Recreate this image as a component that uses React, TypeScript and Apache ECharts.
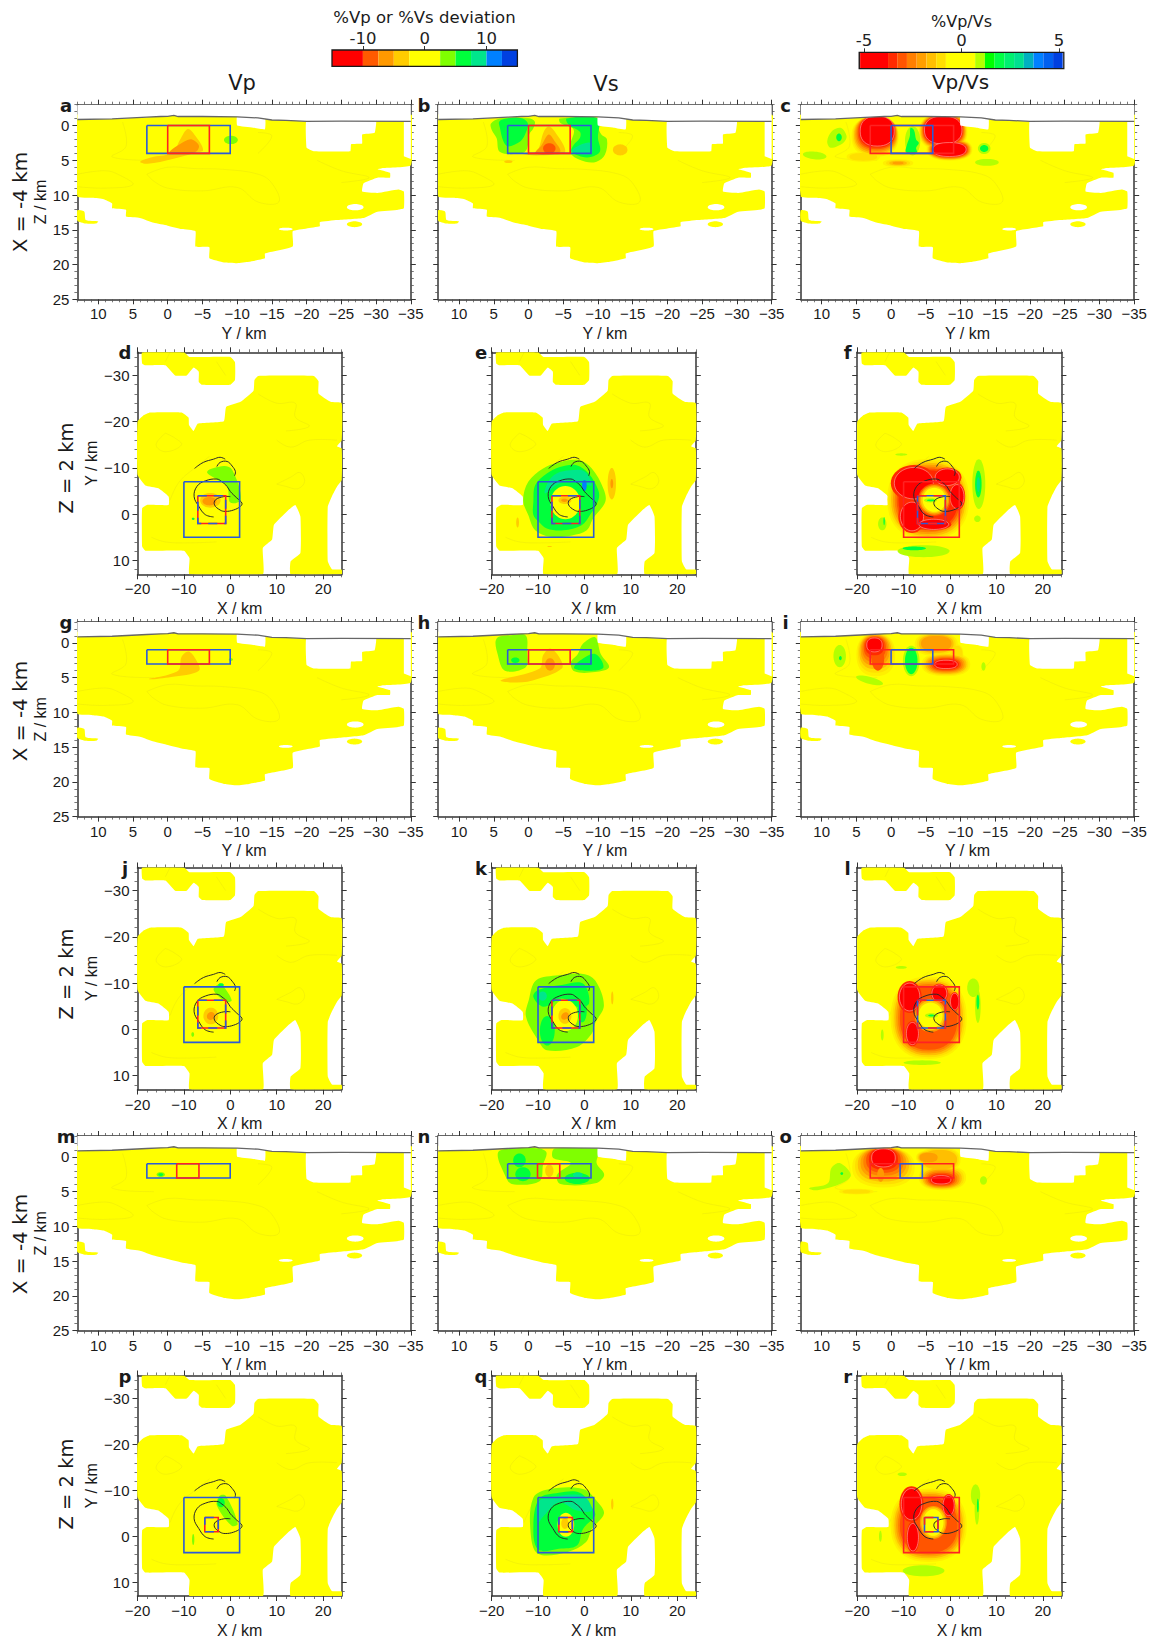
import React, { useEffect, useRef } from "react";
import * as echarts from "echarts";

type Pt = [number, number];
const SANS = "Liberation Sans";
const DEJA = "DejaVu Sans";

// ---------- palette ----------
const R = "#ff0000", r = "#ff5500", O = "#ff9900", A = "#ffcc00", Y = "#ffff00";
const L = "#7fff00", l = "#b4ff00", G = "#00ff3c", T = "#00e68c", B = "#0080ff";
const HOT = ["#fff000", "#ffdf00", "#ffbf00", "#ff9f00", "#ff7f00", "#ff5500", "#ff2a00", "#ff0000"];
const BOX_BLUE = "#2b5bd7", BOX_RED = "#ff2222";
const RANK: Record<string, number> = { [Y]: -1, [A]: 2, [O]: 3, [r]: 5, [R]: 7, [L]: 1, [l]: 1, [G]: 2, [T]: 3, [B]: 4 };

// ---------- colour bars ----------
const barTicksA = [-10, 0, 10];
const barBandsA: [number, number, string][] = [
  [-15, -10, R], [-10, -7.5, "#ff5a00"], [-7.5, -5, "#ff9900"], [-5, -2.5, "#ffcc00"], [-2.5, 2.5, Y],
  [2.5, 5, "#7fff00"], [5, 7.5, "#00ff3c"], [7.5, 10, "#00e68c"], [10, 12.5, "#0080ff"], [12.5, 15, "#0040e0"],
];
const barTicksB = [-5, 0, 5];
const barBandsB: [number, number, string][] = [
  [-5.25, -5.2, "#700000"], [-5.2, -3.77, R], [-3.77, -3.3, "#ff2a00"], [-3.3, -2.8, "#ff5500"], [-2.8, -2.3, "#ff7f00"],
  [-2.3, -1.8, "#ff9f00"], [-1.8, -1.3, "#ffbf00"], [-1.3, -0.8, "#ffdf00"], [-0.8, 0.7, Y], [0.7, 1.2, "#b4ff00"],
  [1.2, 1.7, "#00ff00"], [1.7, 2.2, "#00ff44"], [2.2, 2.7, "#00f070"], [2.7, 3.2, "#00e090"], [3.2, 3.7, "#00b0c0"],
  [3.7, 4.2, "#0080ff"], [4.2, 4.7, "#0060f0"], [4.7, 5.2, "#0040e0"], [5.2, 5.25, "#ffffff"],
];

// ---------- section (Y, Z) outlines ----------
const topography: Pt[] = [[13, -0.87], [8, -0.95], [3, -1.2], [1, -1.3], [0, -1.33], [-0.9, -1.45], [-1.5, -1.3], [-5, -1.3], [-10, -1.25], [-13, -1.1], [-15, -0.8], [-17, -0.75], [-20, -0.6], [-25, -0.65], [-35, -0.6]];
const sectionCoverA: Pt[] = [[13, -1.6], [-35, -1.6], [-35, 5.7], [-31, 6.1], [-30.2, 6.3], [-32, 6.8], [-32, 7.5], [-30.2, 7.5], [-28.2, 8.3], [-28, 9.5], [-30.2, 9.7], [-33.2, 9.2], [-34, 9.5], [-34, 11.9], [-33.2, 12.1], [-30.2, 12.4], [-28.2, 13.3], [-24.4, 13.6], [-21.9, 13.9], [-21.9, 14.5], [-20, 14.8], [-18, 15.2], [-18, 17.4], [-14, 18.4], [-14, 19.1], [-11.7, 19.6], [-10, 19.8], [-8.1, 19.7], [-6, 19.1], [-6, 17.5], [-4, 17.4], [-4, 15.2], [-2, 14.9], [0, 14.4], [2, 14], [4, 13.3], [6, 13.1], [6, 12.1], [8, 11.9], [8, 11.2], [9.2, 10.6], [10.8, 10.4], [13, 10.2]];
const sectionCoverB: Pt[] = [[13, -1.6], [-35, -1.6], [-35, 5.7], [-31, 6.1], [-30.2, 6.3], [-32, 6.8], [-32, 7.5], [-30.2, 7.5], [-28.2, 8.3], [-28, 9.5], [-30.2, 9.7], [-33.2, 9.2], [-34, 9.5], [-34, 11.9], [-33.2, 12.1], [-30.2, 12.4], [-28.2, 13.3], [-24.4, 13.7], [-21.9, 14], [-21.9, 14.9], [-20, 15.3], [-18, 15.8], [-18, 18], [-14, 18.9], [-14, 19.8], [-11.7, 20.3], [-10, 20.5], [-8.1, 20.3], [-6, 19.6], [-6, 18], [-4, 17.9], [-4, 15.6], [-2, 15.2], [0, 14.7], [2, 14.2], [4, 13.5], [6, 13.2], [6, 12.1], [8, 11.9], [8, 11.2], [9.2, 10.6], [10.8, 10.4], [13, 10.2]];
const sectionIsle: Pt[] = [[13, 12.2], [12, 12.4], [11.8, 13.6], [10, 13.8], [10.3, 14.1], [11.8, 14.1], [13, 13.7]];
const sectionNotch: Pt[] = [[-10, -1.4], [-10, 0], [-12.3, 0.3], [-14, 0.55], [-14, -1.2]];
const sectionHole: Pt[] = [[-20, -0.9], [-20, 3.2], [-21, 3.7], [-26.3, 3.7], [-26.4, 2.7], [-28, 2.6], [-28, 1.3], [-29.8, 1.05], [-30, -0.9]];
const sectionSliver: Pt[] = [[-34, -0.9], [-34, 4.4], [-35, 4.8], [-35, -0.9]];
const sectionOvals: number[][] = [[-27, 11.75, 1.2, 0.45], [-17, 14.9, 1, 0.2]];
const sectionIsleOval = [-26.9, 14.2, 1.1, 0.42];
const sectionFaint: Pt[][] = [
  [[13, 7], [9, 6.5], [7, 7.1], [5, 8.5], [9, 9], [13, 8.8]],
  [[3, 7], [0, 6], [-4, 6.2], [-8, 6.3], [-13, 7], [-15, 8.3], [-16, 11], [-13, 11], [-10, 8.9], [-5, 9.4], [0, 9], [2, 8], [3, 7]],
  [[6.5, -0.5], [6, 3], [8, 4.5], [2, 5]],
  [[-13, 4], [-15, 1.5], [-13, 1]],
  [[-21.5, 5], [-25, 6.5], [-29, 7.5], [-25, 8.2]],
];

// ---------- map (X, Y) outlines ----------
const mapCoverMain: Pt[] = [[-20, -20], [-18.7, -21.4], [-17.3, -22], [-10.5, -22], [-9, -20.9], [-8.9, -19.3], [-7.9, -18], [-7, -19.6], [-1.4, -20.1], [-0.9, -23.2], [2.2, -24.3], [5, -26.7], [5.2, -29], [6, -29.9], [18, -29.9], [19, -28.8], [19, -26.1], [21.6, -24.3], [24, -24], [24, -16], [23, -14.7], [24, -14.2], [24, -7.4], [23, -6], [21.9, -3.9], [21, -1.6], [21, 10.2], [21.9, 11.9], [24, 12], [24, 13], [13, 13], [13, 10.2], [15.1, 8.4], [15.1, 0.5], [14, -2], [12.2, -0.6], [9.4, 2.3], [9, 5.5], [7, 7.3], [7, 13], [-8.8, 13], [-8.8, 9.5], [-10, 7.9], [-18.3, 7.9], [-19, 7], [-19, -1.3], [-18, -2], [-13.3, -2], [-13.3, -3.8], [-15.5, -5.6], [-18.3, -6.2], [-20, -8.5]];
const mapCoverTop: Pt[] = [[-19, -35], [-19, -32.6], [-18.4, -32.2], [-14, -32.2], [-11.9, -30], [-9.4, -30], [-7.9, -31.7], [-6.8, -30.8], [-6.8, -28.6], [-6.1, -28], [0, -28], [1, -29], [1, -32.9], [0, -34], [-8.8, -34], [-10, -35]];
const mapFaint: Pt[][] = [
  [[-14, -17.5], [-16, -15], [-14, -13.5], [-10.5, -15], [-12, -16.5], [-14, -17.5]],
  [[-4.5, -12.5], [-7, -10.5], [-11, -7], [-13, -3]],
  [[10, -6.5], [13, -8], [15, -9], [16, -7], [14.5, -5.5], [12, -6], [10, -6.5]],
  [[10, -16], [13, -14.5], [17, -16], [23, -16]],
  [[6, -26], [10, -24], [14, -24], [14, -21], [17, -19], [12, -18]],
  [[-14, -33], [-13, -35]],
  [[-3, -33], [-1, -30]],
  [[-17, 5], [-14, 6], [-9, 6.2], [-3, 6]],
];
const rimOuter: Pt[] = [[-7.7, -9.9], [-5.8, -11.2], [-3.6, -11.9], [-2.2, -12.3], [-1.1, -11.9]];
const rimMiddle: Pt[] = [[-2.9, -10.3], [-2.2, -11.2], [-0.7, -11.4], [0.4, -10.4], [1.1, -9.2], [0.9, -8.3]];
const rimInner: Pt[] = [[-3.6, 0.6], [-5.4, 0.1], [-6.8, -1.7], [-7.8, -3.8], [-7.2, -6], [-5.4, -7.2], [-2.9, -7.6], [-1.8, -7], [-0.7, -6], [0, -4.9], [1.4, -3.5], [2.5, -2.4], [2.2, -1.7], [0.7, -0.9], [-1.1, -0.6], [-2.2, -0.9], [-3.4, -2], [-3.2, -3.1], [-1.4, -3.8], [0, -3.8]];

// ---------- anomaly shapes: [colour, cx, cy, rx, ry, rot], [colour, outline], ["H", levels, cx, cy, rx, ry, cx2, cy2, rx2, ry2] ----------
// First list of a panel: merged like contour levels. Second list: painted afterwards, in the order written.
type Shape = any[];
type Panel = [Shape[], Shape[]];

const blobsA: Panel = [[
  [A, [[3.96, 5.2], [2, 4.5], [-0.7, 3.9], [-1.8, 2], [-2.9, 0.5], [-4, 1.5], [-5.1, 3.5], [-4, 3.9], [-0.7, 4.8], [2.9, 5.5]]],
  [O, [[-0.2, 3.9], [-2.4, 2.3], [-3.5, 2], [-4.5, 2.9], [-4, 3.8], [-1.8, 4]]],
  [L, -9.1, 2.07, 1, 0.6],
], []];
const blobsB: Panel = [[
  [L, [[5.4, -0.3], [4.1, -1], [0, -1.05], [-0.9, -0.6], [-0.7, 0.4], [-0.1, 1.3], [0.2, 3.3], [1, 4], [4.1, 3.8], [4.6, 1.8], [5.3, 0.6]]],
  [G, [[4.2, -0.6], [2.9, -1.05], [1, -1.05], [0.1, -0.3], [0.5, 1.3], [1.2, 2.3], [2.9, 3], [3.6, 2.3], [4.1, 0.4]]],
  [L, [[-4.5, -1], [-10, -1.05], [-10, 0.15], [-10.5, 1.3], [-11.3, 2], [-11, 4.2], [-9.8, 5.2], [-8.2, 5.2], [-6.2, 4.2], [-6, 2.8], [-6.5, 0.6], [-4.6, -0.35]]],
  [G, [[-5.5, -1], [-10, -1], [-10, 1.8], [-10.3, 3.7], [-9.1, 4.5], [-7.7, 4.5], [-6.2, 3.7], [-6.5, 2.8], [-7.4, 1.8], [-7.4, 0.9], [-5.8, -0.1]]],
  [T, [[-6.2, 3.7], [-7, 3], [-8.9, 2.5], [-9.1, 4], [-7.4, 4.1]]],
  [A, [[0.7, 4.2], [-1.2, 3.7], [-2.2, 0.9], [-2.9, 0.15], [-3.8, 0.9], [-5.3, 3.7], [-3.6, 4.2]]],
  [O, [[-1, 4], [-1.9, 2.8], [-2.9, 1.3], [-3.8, 2.3], [-4.6, 3.7], [-3.6, 4.1]]],
  [r, -3, 3.3, 0.9, 0.75],
  [A, -13.2, 3.5, 1.05, 0.8],
  [A, 2.9, 5.2, 0.6, 0.2],
], []];
const blobsC: Panel = [[
  ["H", 8, 2.3, 1.6, 3.4, 2.9, 2, 0.8, 2.45, 2.15],
  ["H", 8, -7.5, 0.9, 3.5, 2.7, -7.5, 0.65, 2.7, 2],
  ["H", 8, -8.4, 3.45, 3.3, 1.6, -8.4, 3.45, 2.4, 1],
  ["H", 2, 4, 4.5, 2.4, 0.7, 4, 4.5, 2, 0.55],
  ["H", 4, -1, 5.4, 2.2, 0.55, -1, 5.4, 0.8, 0.2],
  [l, -3.1, 2.2, 1.1, 2.1],
  [G, [[-2.8, 0.35], [-3.3, 0.67], [-3.6, 2], [-4, 2.5], [-3.6, 3.2], [-3.7, 3.85], [-2.15, 3.85], [-2.3, 2.7], [-2.7, 1.5]]],
  [l, [[9.2, 2.25], [8.5, 0.8], [7.2, 0.35], [6.4, 1.55], [6.9, 2.5], [8.7, 3.2]]],
  [G, 7.5, 1.7, 0.4, 0.55],
  [l, 11, 4.3, 1.7, 0.55, -6],
  [l, -13.4, 3.3, 0.9, 0.8],
  [G, -13.4, 3.3, 0.6, 0.5],
  [l, -13.8, 5.3, 1.7, 0.5],
], []];
const blobsD: Panel = [[
  [L, [[-5, -9.2], [-1.4, -10.4], [0.4, -9.6], [2.3, -3.2], [0, -2.5], [-0.7, -6], [-2.9, -7.5]]],
  [A, -4.3, -3, 2.2, 1.6],
  [O, -4.5, -2.8, 1.5, 0.9],
  [G, -8, 1, 0.3, 0.25],
], []];
const blobsE: Panel = [[
  [L, [[-13.2, -3], [-12.1, -7], [-8.9, -9.9], [-5.6, -11.2], [-1.3, -11.7], [1.6, -9.9], [4.1, -5.5], [4.5, -2.7], [1.9, 0.9], [0.5, 3.5], [-2.7, 4.6], [-7.4, 4.9], [-10.6, 3.5], [-12.1, 0.2]]],
  [G, [[-11, -2.7], [-10.6, -6.3], [-8.1, -8.8], [-5.3, -10.2], [-1.7, -10.6], [0.9, -8.8], [3, -5.2], [3, -3], [1.2, 0.2], [-0.6, 2.4], [-4.5, 3.5], [-8.1, 3.1], [-9.9, 1.6], [-11, 0.2]]],
  [T, [[-7.8, -7], [-6, -8.8], [-3.1, -9.5], [0.1, -9.2], [1.6, -6.3], [0.5, -6.3], [-3.1, -7.4], [-6, -6.3], [-8.5, -4.5]]],
  [B, 0, -6.2, 0.5, 1.2],
  [A, 5.9, -6.6, 0.9, 3.4],
  [O, 5.9, -6.6, 0.3, 1],
  [A, -14.4, 1.8, 0.3, 1.1],
  [A, -7.5, 7, 0.5, 0.12],
], [
  [Y, -4.1, -2.5, 3.2, 3.6],
  [A, -4.2, -3, 1.4, 0.8],
  [O, -4.3, -3, 0.7, 0.35],
]];
const blobsF: Panel = [[
  ["H", 7, -4.7, -3.2, 8.8, 8.7, -4.7, -3.2, 6.4, 6.3],
  [R, -7.8, -6.7, 4.2, 3.4],
  [R, -0.6, -8, 2.6, 1.8],
  [R, 1.5, -3.8, 1.5, 2.6],
  [R, -8.2, 0.5, 2.5, 3.1],
  [R, -3.5, 2.2, 3.2, 1.1],
  [l, 6.2, -6.5, 1.4, 5.4],
  [G, 6.1, -6.5, 0.7, 2.9],
  [T, 6.1, -6.4, 0.35, 1.6],
  [l, -10.5, -12.9, 1.3, 0.25],
  [l, -5.7, 8, 5.6, 1.3],
  [G, -7.7, 7.4, 2.5, 0.4],
  [l, -14.6, 2.1, 0.9, 1.4],
  [G, -14.2, 1.5, 0.15, 0.9],
  [l, 5.9, 1, 0.7, 0.7],
], [
  [r, -3.4, -3.1, 3.5, 3.5],
  [O, -3.4, -3.1, 3.2, 3.2],
  [A, -3.4, -3.1, 2.9, 2.9],
  [Y, -3.4, -3.1, 2.5, 2.6],
  [l, -4.2, -3, 1.4, 0.45],
  [G, -4.1, -3, 0.9, 0.2],
]];
const blobsG: Panel = [[
  [A, [[2.7, 5.2], [-1.5, 4], [-2, 2], [-3, 1.25], [-4, 2.3], [-4.5, 4], [-0.5, 4.9]]],
  [L, -9.1, 2.4, 0.3, 0.2],
], []];
const blobsH: Panel = [[
  [L, [[4.6, -0.6], [2.4, -1.1], [0.4, -1.05], [0.2, 1.3], [0.4, 3.5], [3.4, 4], [4.4, 1.8]]],
  [G, 1.9, 2.5, 0.6, 0.4],
  [L, [[-7.8, 0.15], [-9.6, -0.8], [-10.4, 1.6], [-11.6, 3.5], [-9.6, 4.2], [-6.6, 4.1], [-6.1, 2.8], [-7.1, 1.6]]],
  [G, [[-7.1, 2.8], [-9.6, 1.6], [-10.8, 3.5], [-9.1, 4], [-6.6, 3.7]]],
  [A, [[4, 5.4], [-1.6, 3.7], [-2.1, 1.8], [-3.1, 0.8], [-4.4, 2], [-4.8, 3.7], [-0.6, 5.4], [2.4, 5.7]]],
  [O, -3.1, 3.1, 0.7, 0.9],
], []];
const blobsI: Panel = [[
  ["H", 8, 2.2, 1.7, 2.8, 3.1, 2.4, 0.3, 1.1, 1],
  [r, 1.9, 2.3, 0.9, 1.7],
  ["H", 4, -6.5, 0.2, 3.1, 1.7, -6.5, 0.1, 2.2, 1.1],
  ["H", 2, -9.4, 1.8, 1, 1.6, -9.4, 1.8, 0.9, 1.4],
  ["H", 8, -7.9, 3.1, 3.5, 1.7, -7.9, 3.1, 1.6, 0.6],
  [l, -2.9, 2.6, 1.2, 2.2],
  [G, -2.9, 2.6, 0.9, 1.9],
  [l, 7.4, 1.9, 0.9, 1.6],
  [G, 7.3, 2.2, 0.2, 0.3],
  [l, 3.1, 5.4, 2, 0.5, -15],
  [l, -13.3, 3.4, 0.3, 0.6],
], []];
const blobsJ: Panel = [[
  [L, [[-2.3, -9.9], [-1.6, -9.5], [0.3, -6.3], [-1, -6], [-3.6, -8.5]]],
  [G, -2, -9.6, 0.6, 0.4],
  [A, -4.2, -2.9, 1.6, 1.8],
  [O, -4.2, -2.9, 0.8, 0.9, 45],
  [L, -8.1, 1.1, 0.3, 0.5],
], []];
const blobsK: Panel = [[
  [L, [[-10.4, -10.6], [-5.5, -11.7], [-0.3, -12], [2.3, -10.6], [4.2, -5.2], [2.3, -1.3], [1.6, 0.9], [-1.6, 3.8], [-8.1, 4.5], [-10, 2.3], [-12.6, -2.8], [-12, -6.3]]],
  [G, [[-10, -8.5], [-4.9, -9.6], [-0.3, -9.9], [1, -5.6], [-1.6, -4.9], [-4.9, -6.7], [-8.8, -4.9], [-11, -7]]],
  [G, -8, 0.3, 1.6, 3.2],
  [G, -0.5, -4, 1, 2.5],
  [T, -9, -7.2, 0.9, 1],
  [A, 6, -6.8, 0.25, 1.4],
], [
  [Y, -4.2, -3, 2.8, 3.4],
  [A, -4.2, -2.9, 1.4, 1.7],
  [O, -4.2, -2.9, 0.7, 0.9, 45],
]];
const blobsL: Panel = [[
  ["H", 6, -4.6, -2.5, 8.2, 8.9, -4.6, -2.5, 6.2, 6.9],
  [R, -8.7, -7, 2.2, 3],
  [R, -8.1, 0.9, 1.3, 2.4],
  [R, -2.3, -7.8, 1.6, 1.8],
  [R, 1, -6, 0.9, 1.8],
  [l, 5, -9, 1.3, 2],
  [l, 6, -5, 0.6, 3.6],
  [G, 6, -5.9, 0.3, 1.6],
  [l, -10.5, -13.4, 1.2, 0.3],
  [l, -14.6, 1.2, 0.3, 1.2],
  [l, -6, 7.2, 4, 0.5],
], [
  [O, -4.2, -3, 3.4, 3.6],
  [A, -4.2, -3, 3, 3.2],
  [Y, -4.2, -3, 2.6, 2.8],
  [l, -4, -3, 1.4, 0.5],
  [G, -4, -3, 0.7, 0.2],
]];
const blobsM: Panel = [[
  [L, 1, 2.55, 0.6, 0.35],
  [G, 1, 2.55, 0.35, 0.2],
], []];
const blobsN: Panel = [[
  [L, [[4.4, -0.6], [2.4, -1.2], [-1.6, -1.2], [-2.6, -0.6], [-2.1, 1.1], [-1.6, 3.5], [2.4, 3.9], [3.4, 2.6]]],
  [G, 1.3, 0.5, 0.9, 1],
  [G, 0.8, 2.5, 1.1, 1],
  [L, [[-3.4, -0.6], [-3.8, -1.2], [-10.1, -1.2], [-9.8, 0.9], [-10.9, 2.6], [-9.6, 3.8], [-4.6, 3.9], [-4.1, 2.6], [-6.1, 0.9], [-3.6, 0.2]]],
  [G, -7, 3.1, 1.8, 0.8],
  [T, -7.1, 2.6, 0.7, 0.4],
  [A, -3, 2, 0.6, 0.9],
], []];
const blobsO: Panel = [[
  ["H", 8, 1.1, 1.5, 4.5, 2.9, 1.1, 0.15, 1.7, 1.3],
  ["H", 3, -7, 0.4, 3, 1.8, -7, 0.4, 2.5, 1.4],
  ["H", 4, -5.4, 0.1, 1.8, 1, -5.4, 0.1, 1.3, 0.7],
  ["H", 8, -7.4, 3, 3.4, 1.8, -7.2, 3.3, 1.4, 0.6],
  ["H", 2, 5, 5, 2.5, 0.4, 5, 5, 2, 0.3],
  [l, [[11.8, 4.5], [9.1, 3.8], [8.6, 1.6], [7.4, 0.9], [5.8, 2.6], [7.1, 3.8], [10.6, 4.8]]],
  [G, 7.1, 2.4, 0.2, 0.2],
  [l, -13.3, 3.4, 0.5, 0.6],
], [
  [O, 1.5, 2.6, 0.5, 1],
]];
const blobsP: Panel = [[
  [L, [[-2.3, -8.8], [-1, -8.8], [1.6, -2.7], [0.3, -2.3], [-2.9, -6.7]]],
  [G, -2, -7.3, 0.8, 1],
  [L, -8, 0.7, 0.25, 1.2],
], []];
const blobsQ: Panel = [[
  [L, [[-11, -8.4], [-7.4, -10.3], [-0.3, -10.3], [2.9, -7.4], [4.2, -4.9], [1.6, -1.6], [0.3, 1.3], [-3.6, 3.4], [-10, 3.8], [-11.6, -0.9]]],
  [G, [[-9.8, -8.1], [-5.5, -9.5], [-1, -9.5], [1.6, -6.3], [2.3, -4.5], [-0.3, -1.6], [-1.6, 2], [-5.5, 2.7], [-9.8, 3], [-11, -0.9]]],
  [T, [[-10, -7.4], [-7.4, -8.5], [-0.3, -8.8], [1.6, -5.6], [-1.6, -5.6], [-5.5, -7.4], [-8.7, -4.5], [-10, -3]]],
  [A, 6, -7, 0.25, 1.2],
], [
  [Y, -4, -2.5, 1.8, 2.6],
  [A, -4.2, -2.8, 0.8, 1.2],
  [T, -4, -0.9, 0.8, 0.2],
]];
const blobsR: Panel = [[
  ["H", 6, -4.6, -2.4, 8.2, 8, -4.6, -2.4, 6.2, 6],
  [R, -8.3, -7, 2.2, 3.4],
  [R, -8, 0.2, 1.2, 3],
  [R, -0.3, -6.7, 1.2, 2.2],
  [l, 5.5, -9, 1, 2.3],
  [l, 5.8, -6, 0.5, 3.5],
  [G, 6, -6.7, 0.2, 1.5],
  [l, -10.3, -13.5, 1, 0.4],
  [l, -15, 0, 0.3, 1.2],
  [l, -5.7, 7.5, 4.5, 1.2],
], [
  [O, -3.6, -3, 2.9, 3.6],
  [A, -3.6, -3, 2.6, 3.3],
  [Y, -3.6, -3, 2.2, 2.9],
]];

// ---------- target boxes [a0, a1, b0, b1] ----------
const sectionBoxA = { outer: [3, -9, 0, 4], inner: [0, -6, 0, 4] };
const sectionBoxB = { outer: [3, -9, 1, 3.05], inner: [0, -6, 1, 3.05] };
const sectionBoxC = { outer: [3, -9, 1, 3.05], inner: [-1.3, -4.5, 1, 3.05] };
const mapBoxA = { outer: [-10, 2, -7, 5], inner: [-7, -1, -4, 2] };
const mapBoxB = { outer: [-10, 2, -9.2, 2.8], inner: [-7, -1, -6.3, -0.3] };
const mapBoxC = { outer: [-10, 2, -8.45, 3.55], inner: [-5.5, -2.6, -4.1, -1] };

// ---------- ticks ----------
const sectionXTicks = [10, 5, 0, -5, -10, -15, -20, -25, -30, -35];
const sectionZTicks = [0, 5, 10, 15, 20, 25];
const mapXTicks = [-20, -10, 0, 10, 20];
const mapYTicks = [-30, -20, -10, 0, 10];
const sectionMinorX = [13, 12, 11, 9, 8, 7, 6, 4, 3, 2, 1, -1, -2, -3, -4, -6, -7, -8, -9, -11, -12, -13, -14, -16, -17, -18, -19, -21, -22, -23, -24, -26, -27, -28, -29, -31, -32, -33, -34];
const sectionMinorZ = [-3, -2, -1, 1, 2, 3, 4, 6, 7, 8, 9, 11, 12, 13, 14, 16, 17, 18, 19, 21, 22, 23, 24];
const mapMinorX = [-18, -16, -14, -12, -8, -6, -4, -2, 2, 4, 6, 8, 12, 14, 16, 18, 22, 24];
const mapMinorY = [-34, -32, -28, -26, -24, -22, -18, -16, -14, -12, -8, -6, -4, -2, 2, 4, 6, 8, 12];

// ---------- layout ----------
const SEC_X = [77.4, 438.2, 800.8];
const MAP_X = [137.5, 491.6, 857.2];
const SEC_W = 333.4, SEC_H = 194.6, MAP_W = 204.2, MAP_H = 222;
const ROWS_SEC = [104.7, 622, 1136];
const ROWS_MAP = [352.3, 867.5, 1375.5];

const letters = "abcdefghijklmnopqr".split("");
const allBlobs = [blobsA, blobsB, blobsC, blobsD, blobsE, blobsF, blobsG, blobsH, blobsI, blobsJ, blobsK, blobsL, blobsM, blobsN, blobsO, blobsP, blobsQ, blobsR];
const sectionBoxes = [sectionBoxA, sectionBoxB, sectionBoxC];
const mapBoxes = [mapBoxA, mapBoxB, mapBoxC];

const fmt = (v: number) => (v < 0 ? "\u2212" + Math.abs(v) : String(v));

function ell(cx: number, cy: number, rx: number, ry: number, rot = 0, pow = 1): Pt[] {
  const out: Pt[] = [];
  const a = (rot * Math.PI) / 180;
  for (let i = 0; i < 40; i++) {
    const t = (i / 40) * Math.PI * 2;
    const c = Math.cos(t), s = Math.sin(t);
    const u = rx * Math.sign(c) * Math.pow(Math.abs(c), pow);
    const v = ry * Math.sign(s) * Math.pow(Math.abs(s), pow);
    out.push([cx + u * Math.cos(a) - v * Math.sin(a), cy + u * Math.sin(a) + v * Math.cos(a)]);
  }
  return out;
}

type Row = { pts: Pt[]; fill?: string; stroke?: string; lw?: number; smooth?: number; dash?: number[]; rank?: number };

function expandLayer(items: Shape[], sorted: boolean): Row[] {
  const out: Row[] = [];
  for (const s of items) {
    if (s[0] === "H") {
      const [, n, cx, cy, rx, ry, cx2, cy2, rx2, ry2] = s;
      for (let i = 0; i < n; i++) {
        const k = n > 1 ? i / (n - 1) : 1;
        const top = i === 7;
        out.push({
          pts: ell(cx + (cx2 - cx) * k, cy + (cy2 - cy) * k, rx + (rx2 - rx) * k, ry + (ry2 - ry) * k, 0, 0.85),
          fill: HOT[i], rank: i, smooth: 0,
          stroke: top ? "rgba(255,205,205,0.7)" : undefined, lw: top ? 0.7 : 0,
        });
      }
    } else if (Array.isArray(s[1])) {
      out.push({ pts: s[1], fill: s[0], rank: RANK[s[0]] ?? 1, smooth: 0.35 });
    } else {
      const isRed = s[0] === R;
      if (isRed) out.push({ pts: ell(s[1], s[2], s[3] * 1.18, s[4] * 1.15, s[5] || 0), fill: HOT[6], rank: 6 });
      out.push({ pts: ell(s[1], s[2], s[3], s[4], s[5] || 0), fill: s[0], rank: RANK[s[0]] ?? 1, smooth: 0,
        stroke: isRed ? "rgba(255,205,205,0.7)" : undefined, lw: isRed ? 0.7 : 0 });
    }
  }
  return sorted ? out.sort((a, b) => (a.rank as number) - (b.rank as number)) : out;
}

function boxPts(b: number[]): Pt[] {
  return [[b[0], b[2]], [b[1], b[2]], [b[1], b[3]], [b[0], b[3]], [b[0], b[2]]];
}

function rowsFor(idx: number, isSection: boolean, col: number, group: number): Row[] {
  const rows: Row[] = [];
  const base = { fill: Y };
  const faintStroke = "rgba(165,150,60,0.16)";
  if (isSection) {
    rows.push({ pts: group === 0 ? sectionCoverA : sectionCoverB, ...base, smooth: 0.12 });
    rows.push({ pts: sectionIsle, ...base, smooth: 0.2 });
    rows.push({ pts: ell(sectionIsleOval[0], sectionIsleOval[1], sectionIsleOval[2], sectionIsleOval[3]), ...base });
    for (const p of sectionFaint) rows.push({ pts: p, stroke: faintStroke, lw: 0.7, smooth: 0.4 });
  } else {
    rows.push({ pts: mapCoverMain, ...base, smooth: 0.12 });
    rows.push({ pts: mapCoverTop, ...base, smooth: 0.12 });
    for (const p of mapFaint) rows.push({ pts: p, stroke: faintStroke, lw: 0.7, smooth: 0.4 });
  }
  const panel = allBlobs[idx];
  rows.push(...expandLayer(panel[0], true));
  rows.push(...expandLayer(panel[1], false));
  if (isSection) {
    rows.push({ pts: sectionNotch, fill: "#ffffff", smooth: 0.1 });
    rows.push({ pts: sectionHole, fill: "#ffffff", smooth: 0.08 });
    rows.push({ pts: sectionSliver, fill: "#ffffff" });
    for (const o of sectionOvals) rows.push({ pts: ell(o[0], o[1], o[2], o[3]), fill: "#ffffff" });
    const mask: Pt[] = [[13, -3], [-35, -3], ...topography.slice().reverse()];
    rows.push({ pts: mask, fill: "#ffffff" });
    rows.push({ pts: topography, stroke: "#666666", lw: 1.3 });
  } else {
    rows.push({ pts: rimOuter, stroke: "#2a2a2a", lw: 1, smooth: 0.4 });
    rows.push({ pts: rimMiddle, stroke: "#2a2a2a", lw: 1, smooth: 0.4 });
    rows.push({ pts: rimInner, stroke: "#2a2a2a", lw: 1, smooth: 0.4 });
  }
  const b = isSection ? sectionBoxes[group] : mapBoxes[group];
  const ratio = col === 2;
  const outerC = ratio ? BOX_RED : BOX_BLUE;
  const innerC = ratio ? BOX_BLUE : BOX_RED;
  rows.push({ pts: boxPts(b.outer), stroke: outerC, lw: 1.6 });
  rows.push({ pts: boxPts(b.inner), stroke: innerC, lw: 1.6 });
  if (!isSection) rows.push({ pts: boxPts(b.inner), stroke: outerC, lw: 1.6, dash: [9, 7] });
  return rows;
}

function axisPair(gridIndex: number, dim: "x" | "y", pos: string, min: number, max: number, inverse: boolean,
  major: number[], minor: number[], labels: boolean, name?: string, nameGap?: number) {
  const common = { type: "value", gridIndex, min, max, inverse, position: pos, splitLine: { show: false }, silent: true };
  return [
    {
      ...common,
      axisLine: { show: true, onZero: false, lineStyle: { color: "#333333", width: 1.5 } },
      axisTick: { show: true, customValues: major, length: 5, lineStyle: { color: "#333333", width: 1 } },
      axisLabel: labels
        ? { show: true, customValues: major, formatter: (v: number) => fmt(v), color: "#1a1a1a", fontFamily: SANS, fontSize: 15, margin: dim === "x" ? 7 : 8 }
        : { show: false },
      ...(name ? { name, nameLocation: "middle", nameGap, nameTextStyle: { color: "#1a1a1a", fontFamily: SANS, fontSize: 16 } } : {}),
    },
    {
      ...common,
      axisLine: { show: false, onZero: false },
      axisTick: { show: true, customValues: minor, length: 3, lineStyle: { color: "#555555", width: 0.8 } },
      axisLabel: { show: false },
    },
  ];
}

function buildOption() {
  const grid: any[] = [], xAxis: any[] = [], yAxis: any[] = [], series: any[] = [], graphic: any[] = [];
  const text = (t: string, x: number, y: number, size: number, extra: any = {}) =>
    graphic.push({ type: "text", x, y, rotation: extra.rot || 0, silent: true, style: { text: t, fill: "#1a1a1a", fontFamily: extra.font || DEJA, fontSize: size, fontWeight: extra.weight || "normal", align: "center", verticalAlign: "middle" } });

  letters.forEach((ltr, idx) => {
    const rowIdx = Math.floor(idx / 3);
    const col = idx % 3;
    const isSection = rowIdx % 2 === 0;
    const group = Math.floor(rowIdx / 2);
    const left = isSection ? SEC_X[col] : MAP_X[col];
    const top = isSection ? ROWS_SEC[group] : ROWS_MAP[group];
    const w = isSection ? SEC_W : MAP_W;
    const h = isSection ? SEC_H : MAP_H;
    const g = grid.length;
    grid.push({ left, top, width: w, height: h, containLabel: false });
    const xBase = xAxis.length, yBase = yAxis.length;
    if (isSection) {
      xAxis.push(...axisPair(g, "x", "bottom", -35, 13, true, sectionXTicks, sectionMinorX, true, "Y / km", 26));
      xAxis.push(...axisPair(g, "x", "top", -35, 13, true, sectionXTicks, sectionMinorX, false));
      yAxis.push(...axisPair(g, "y", "left", -3, 25, true, sectionZTicks, sectionMinorZ, col === 0, col === 0 ? "Z / km" : undefined, 29));
      yAxis.push(...axisPair(g, "y", "right", -3, 25, true, sectionZTicks, sectionMinorZ, false));
    } else {
      xAxis.push(...axisPair(g, "x", "bottom", -20, 24, false, mapXTicks, mapMinorX, true, "X / km", 26));
      xAxis.push(...axisPair(g, "x", "top", -20, 24, false, mapXTicks, mapMinorX, false));
      yAxis.push(...axisPair(g, "y", "left", -35, 13, true, mapYTicks, mapMinorY, col === 0, col === 0 ? "Y / km" : undefined, 38));
      yAxis.push(...axisPair(g, "y", "right", -35, 13, true, mapYTicks, mapMinorY, false));
    }
    const rows = rowsFor(idx, isSection, col, group);
    series.push({
      type: "custom", xAxisIndex: xBase, yAxisIndex: yBase, clip: true, silent: true, animation: false,
      data: rows.map((_, i) => [i]),
      renderItem: (params: any, api: any) => {
        const row = rows[params.dataIndex];
        const points = row.pts.map((p) => api.coord(p));
        return {
          type: row.fill ? "polygon" : "polyline",
          shape: { points, smooth: row.smooth || 0 },
          style: { fill: row.fill || "none", stroke: row.stroke || "none", lineWidth: row.lw || 0, lineDash: row.dash || undefined },
        };
      },
    });
    const lx = isSection ? [66, 424, 785.6][col] : [125, 481, 847.6][col];
    text(ltr, lx, top + 0.5, 18, { weight: "bold" });
  });

  // colour bars
  const addBar = (bands: [number, number, string][], ticks: number[], min: number, max: number, left: number, top: number, width: number, height: number) => {
    const g = grid.length;
    grid.push({ left, top, width, height });
    const xi = xAxis.length, yi = yAxis.length;
    xAxis.push({
      type: "value", gridIndex: g, min, max, position: "top", splitLine: { show: false },
      axisLine: { show: false, onZero: false },
      axisTick: { show: true, customValues: ticks, length: 4, lineStyle: { color: "#333" } },
      axisLabel: { show: true, customValues: ticks, formatter: (v: number) => String(v), fontFamily: DEJA, fontSize: 16.5, color: "#222", margin: 3 },
    });
    yAxis.push({ type: "value", gridIndex: g, min: 0, max: 1, show: false });
    series.push({
      type: "custom", xAxisIndex: xi, yAxisIndex: yi, clip: false, silent: true, animation: false,
      data: bands.map((b) => [b[0], b[1]]),
      renderItem: (params: any, api: any) => {
        const a = api.coord([api.value(0), 1]);
        const c = api.coord([api.value(1), 0]);
        return { type: "rect", shape: { x: a[0], y: a[1], width: c[0] - a[0], height: c[1] - a[1] }, style: { fill: bands[params.dataIndex][2] } };
      },
    });
    series.push({
      type: "custom", xAxisIndex: xi, yAxisIndex: yi, clip: false, silent: true, animation: false,
      data: [[min, max]],
      renderItem: (_: any, api: any) => {
        const a = api.coord([api.value(0), 1]);
        const c = api.coord([api.value(1), 0]);
        return { type: "rect", shape: { x: a[0], y: a[1], width: c[0] - a[0], height: c[1] - a[1] }, style: { fill: "none", stroke: "#1a1a1a", lineWidth: 1.3 } };
      },
    });
  };
  addBar(barBandsA, barTicksA, -15, 15, 332, 50, 185.4, 16.3);
  addBar(barBandsB, barTicksB, -5.25, 5.25, 859.2, 52.3, 204.6, 16.4);

  text("%Vp or %Vs deviation", 424.5, 17, 16.5);
  text("%Vp/Vs", 961.5, 21, 16);
  text("Vp", 242, 83, 21);
  text("Vs", 606, 84, 21);
  text("Vp/Vs", 960.5, 82, 20);
  const rotUp = Math.PI / 2;
  [202, 711, 1244].forEach((y) => text("X = -4 km", 20, y, 20, { rot: rotUp }));
  [468, 974, 1484].forEach((y) => text("Z = 2 km", 66, y, 19.5, { rot: rotUp }));

  return { animation: false, backgroundColor: "#ffffff", grid, xAxis, yAxis, series, graphic };
}

export default function App() {
  const ref = useRef<HTMLDivElement>(null);
  useEffect(() => {
    document.body.style.margin = "0";
    const chart = echarts.init(ref.current as HTMLDivElement, undefined, { renderer: "svg" });
    chart.setOption(buildOption() as any);
    return () => chart.dispose();
  }, []);
  return <div ref={ref} style={{ width: 1156, height: 1639 }} />;
}
